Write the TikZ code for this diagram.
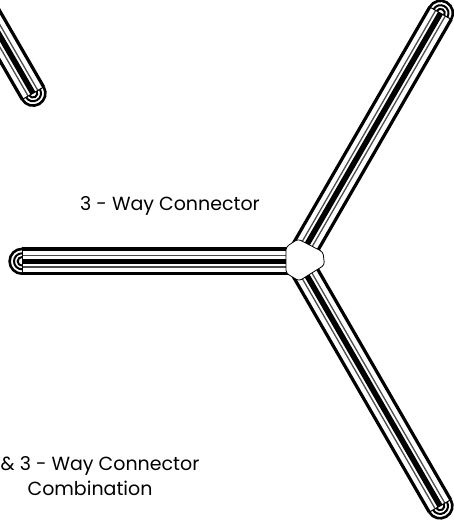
\documentclass[tikz,border=0pt]{standalone}
\usepackage{fontspec}
\setmainfont{Poppins}
\usetikzlibrary{positioning}

\tikzset{
    x=1pt, y=1pt,
    edgeline/.style={line width=3.2pt},
    thinline/.style={line width=1.3pt, black!70},
    coreline/.style={line width=5.6pt},
    capline/.style={line width=2pt},
    label/.style={font=\fontsize{19}{22}\selectfont, align=center, inner sep=0pt, anchor=base},
    arm/.pic={
        % tube walls
        \foreach \off in {-12.4,12.4} \draw[edgeline] (0,\off) -- (#1,\off);
        \foreach \off in {-5.6,5.6}   \draw[thinline] (0,\off) -- (#1,\off);
        \draw[coreline] (0,0) -- (#1,0);
        \draw[line width=1pt] (#1,-13) -- (#1,13);
        % rounded end
        \draw[line width=2.6pt] (#1,12.4) arc[start angle=90, end angle=-90, radius=12.4];
        \draw[capline]  (#1,8) arc[start angle=90, end angle=-90, radius=8];
        \draw[capline] (#1,4.3) arc[start angle=90, end angle=-90, radius=4.3];
    }
}

\begin{document}
\begin{tikzpicture}

    \useasboundingbox (0,0) rectangle (454,-521);
    \clip (0,0) rectangle (454,-521);

    % the three arms, then the loose one
    \pic[rotate=180] at (298,-261.3) {arm=276};
    \pic[rotate=60]  at (298,-260) {arm=285};
    \pic[rotate=-60] at (298,-260) {arm=284};
    \pic[rotate=-60] at (-22,2)    {arm=110};

    % hub
    \draw[line width=0.8pt, fill=white, rounded corners=3pt]
        (286,-247) -- (298,-239) -- (323,-252) -- (324.5,-265) -- (299,-281) -- (286,-273) -- cycle;

    % labels
    \node[label] (way) at (170,-210.7) {3 - Way Connector};
    \node[label] (combo1) at (100,-470) {\& 3 - Way Connector};
    \node[label] (combo2) at (90,-495) {Combination};

\end{tikzpicture}
\end{document}
